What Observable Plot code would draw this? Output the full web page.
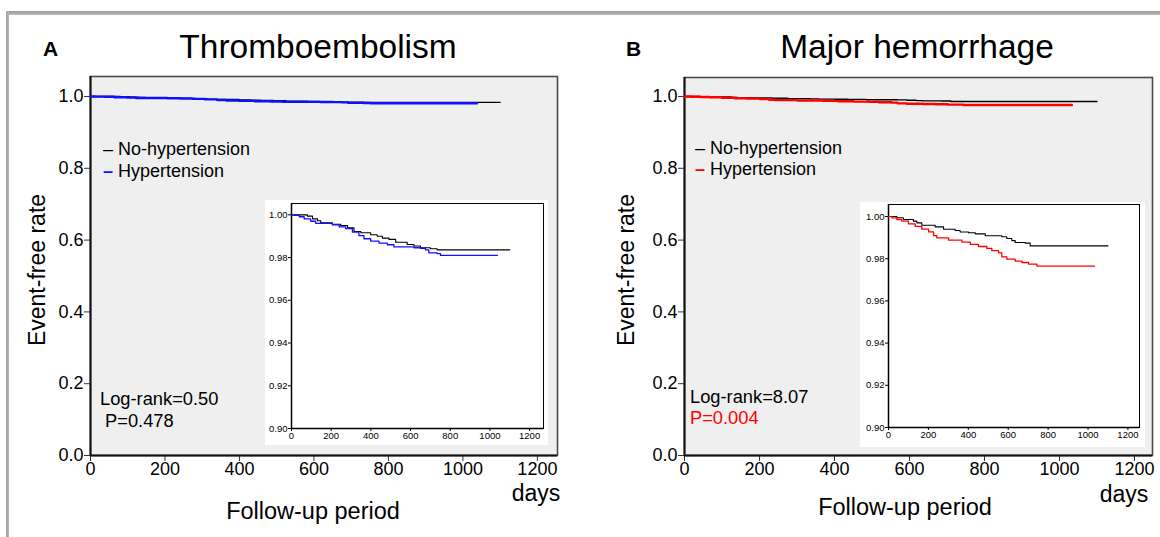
<!DOCTYPE html>
<html>
<head>
<meta charset="utf-8">
<script src="https://cdn.jsdelivr.net/npm/d3@7"></script>
<script src="https://cdn.jsdelivr.net/npm/@observablehq/plot@0.6"></script>
<style>
  html, body { margin: 0; padding: 0; background: #fff; }
  #root { position: relative; width: 1160px; height: 537px; overflow: hidden; background: #fff;
          font-family: "Liberation Sans", Arial, Helvetica, sans-serif; }
  .abs { position: absolute; }
  .abs svg { display: block; }
</style>
</head>
<body>
<div id="root"></div>
<script>
// ---------------- DATA ----------------
// Panel A: Thromboembolism
const teNoHTDays = [0, 80, 106, 131, 147, 206, 248, 282, 315, 349, 399, 432, 458, 491, 525, 583, 617, 650, 700, 734, 1100];
const teNoHTSurv = [1.0, 0.9994, 0.9981, 0.9972, 0.9963, 0.9956, 0.9950, 0.9939, 0.9922, 0.9916, 0.9907, 0.9900, 0.9891, 0.9885, 0.9872, 0.9861, 0.9854, 0.9846, 0.9841, 0.9836, 0.9836];
const teHTDays = [0, 13, 39, 64, 97, 122, 206, 240, 273, 307, 340, 365, 399, 441, 483, 516, 617, 650, 675, 692, 734, 751, 1038];
const teHTSurv = [1.0, 0.9997, 0.9991, 0.9981, 0.9970, 0.9960, 0.9953, 0.9944, 0.9935, 0.9919, 0.9903, 0.9888, 0.9877, 0.9868, 0.9860, 0.9850, 0.9846, 0.9843, 0.9836, 0.9822, 0.9818, 0.9810, 0.9810];
// Panel B: Major hemorrhage
const mhNoHTDays = [0, 42, 75, 125, 142, 167, 234, 276, 334, 359, 401, 435, 485, 568, 593, 618, 635, 685, 710, 1100];
const mhNoHTSurv = [1.0, 0.9994, 0.9986, 0.9978, 0.9970, 0.9959, 0.9951, 0.9940, 0.9934, 0.9927, 0.9923, 0.9918, 0.9909, 0.9904, 0.9896, 0.9886, 0.9877, 0.9874, 0.9861, 0.9861];
const mhHTDays = [0, 17, 42, 67, 100, 134, 167, 201, 226, 242, 301, 368, 410, 451, 493, 518, 552, 568, 593, 635, 669, 702, 744, 1033];
const mhHTSurv = [1.0, 0.9994, 0.9986, 0.9978, 0.9965, 0.9953, 0.9940, 0.9927, 0.9909, 0.9899, 0.9888, 0.9879, 0.9868, 0.9858, 0.9849, 0.9838, 0.9828, 0.9809, 0.9798, 0.9789, 0.9782, 0.9774, 0.9765, 0.9765];

const mainXTicks = [0, 200, 400, 600, 800, 1000, 1200];
const mainYTicks = [0, 0.2, 0.4, 0.6, 0.8, 1.0];
const insetYTicks = [0.90, 0.92, 0.94, 0.96, 0.98, 1.00];
const groupLabels = ["No-hypertension", "Hypertension"];
const panelTitles = ["Thromboembolism", "Major hemorrhage"];
const panelLetters = ["A", "B"];
const logRankTexts = ["Log-rank=0.50", "Log-rank=8.07"];
const pTexts = [" P=0.478", "P=0.004"];
const xAxisTitle = "Follow-up period";
const yAxisTitle = "Event-free rate";
const unitText = "days";

// ---------------- helpers ----------------
const toRows = (days, surv) => days.map((d, i) => ({day: d, surv: surv[i]}));
const FONT = '"Liberation Sans", Arial, Helvetica, sans-serif';
const root = document.getElementById("root");
const intFmt = d => String(d);

function place(node, left, top) {
  const w = document.createElement("div");
  w.className = "abs";
  w.style.left = left + "px";
  w.style.top = top + "px";
  w.appendChild(node);
  root.appendChild(w);
}

function mainPlot(o) {
  return Plot.plot({
    width: o.width, height: 537,
    marginLeft: o.ml, marginRight: o.mr, marginTop: o.mt, marginBottom: 82,
    x: {domain: [0, o.xmax]},
    y: {domain: [0, o.ymax]},
    style: {fontFamily: FONT, fontSize: "18px", color: "#000", background: "transparent", overflow: "visible"},
    marks: [
      Plot.frame({fill: "#efefef", stroke: "#4a4a4a", strokeWidth: 1.6}),
      Plot.axisX({ticks: mainXTicks, tickFormat: intFmt, tickSize: 6, tickPadding: 1, label: null, stroke: "#333"}),
      Plot.axisY({ticks: mainYTicks, tickFormat: d3.format(".1f"), tickSize: 6, tickPadding: 1, label: null, stroke: "#333"}),
      Plot.ruleX([0], {stroke: "#111", strokeWidth: 2}),
      Plot.ruleY([0], {stroke: "#111", strokeWidth: 2}),
      Plot.line(o.ref, {x: "day", y: "surv", curve: "step-after", stroke: "#000", strokeWidth: 1.3}),
      Plot.line(o.grp, {x: "day", y: "surv", curve: "step-after", stroke: o.color, strokeWidth: 2.4})
    ]
  });
}

function insetPlot(o) {
  return Plot.plot({
    width: o.width, height: o.height,
    marginLeft: o.ml, marginRight: o.mr, marginTop: o.mt, marginBottom: o.mb,
    x: {domain: [0, o.xmax]},
    y: {domain: [0.90, o.ymax]},
    style: {fontFamily: FONT, fontSize: "9.5px", color: "#000", background: "#fff"},
    marks: [
      Plot.frame({stroke: "#000", strokeWidth: 1}),
      Plot.axisX({ticks: mainXTicks, tickFormat: intFmt, tickSize: 3, tickPadding: 1, label: null}),
      Plot.axisY({ticks: insetYTicks, tickFormat: d3.format(".2f"), tickSize: 3, tickPadding: 1, label: null}),
      Plot.ruleX([0], {stroke: "#000", strokeWidth: 1.5}),
      Plot.ruleY([0.90], {stroke: "#000", strokeWidth: 1.5}),
      Plot.line(o.ref, {x: "day", y: "surv", curve: "step-after", stroke: "#000", strokeWidth: 1.1}),
      Plot.line(o.grp, {x: "day", y: "surv", curve: "step-after", stroke: o.color, strokeWidth: 1.3})
    ]
  });
}

const teRef = toRows(teNoHTDays, teNoHTSurv), teGrp = toRows(teHTDays, teHTSurv);
const mhRef = toRows(mhNoHTDays, mhNoHTSurv), mhGrp = toRows(mhHTDays, mhHTSurv);
const BLUE = "#1010ff", RED = "#ff0000";

// page border lines
const topLine = document.createElement("div");
topLine.style.cssText = "position:absolute;left:6px;top:11px;width:1160px;height:4px;background:linear-gradient(#9a9a9a,#bdbdbd);";
root.appendChild(topLine);
const leftLine = document.createElement("div");
leftLine.style.cssText = "position:absolute;left:6px;top:11px;width:3px;height:540px;background:linear-gradient(90deg,#a0a0a0,#b8b8b8);";
root.appendChild(leftLine);

// Panel A
place(mainPlot({width: 580, ml: 90, mr: 23, mt: 76, xmax: 1254, ymax: 1.0557, ref: teRef, grp: teGrp, color: BLUE}), 0, 0);
place(insetPlot({width: 283, height: 245, ml: 26, mr: 5, mt: 3, mb: 17, xmax: 1270, ymax: 1.0053, ref: teRef, grp: teGrp, color: BLUE}), 265, 200);
// Panel B
place(mainPlot({width: 580, ml: 104, mr: 8, mt: 77, xmax: 1248, ymax: 1.0529, ref: mhRef, grp: mhGrp, color: RED}), 580, 0);
place(insetPlot({width: 285, height: 245, ml: 28, mr: 6, mt: 2, mb: 20, xmax: 1258, ymax: 1.0057, ref: mhRef, grp: mhGrp, color: RED}), 860, 202);

// Text overlay (real SVG text)
const svg = d3.select(root).append("svg")
  .attr("width", 1160).attr("height", 537)
  .style("position", "absolute").style("left", 0).style("top", 0)
  .style("pointer-events", "none")
  .style("font-family", FONT);

function txt(x, y, s, size, opts = {}) {
  const t = svg.append("text").attr("x", x).attr("y", y).text(s)
    .attr("font-size", size + "px").attr("fill", opts.fill || "#000")
    .attr("text-anchor", opts.anchor || "start")
    .style("white-space", "pre");
  if (opts.bold) t.attr("font-weight", "bold");
  if (opts.rotate) t.attr("transform", `rotate(-90 ${x} ${y})`);
  return t;
}

const panels = [
  {letterX: 43, titleX: 318, yTitleX: 45, xTitleX: 313, xTitleY: 519, daysX: 536, daysY: 501,
   legX: 103, legY: [155, 177], lrX: 100, lrY: [405, 427], color: BLUE, pColor: "#000"},
  {letterX: 626, titleX: 917, yTitleX: 634, xTitleX: 905, xTitleY: 515, daysX: 1124, daysY: 502,
   legX: 695, legY: [154, 175], lrX: 690, lrY: [403, 424], color: RED, pColor: RED}
];

panels.forEach((p, i) => {
  txt(p.letterX, 56, panelLetters[i], 21, {bold: true});
  txt(p.titleX, 58, panelTitles[i], 33.5, {anchor: "middle"});
  txt(p.yTitleX, 270, yAxisTitle, 23, {anchor: "middle", rotate: true});
  txt(p.xTitleX, p.xTitleY, xAxisTitle, 23.5, {anchor: "middle"});
  txt(p.daysX, p.daysY, unitText, 23, {anchor: "middle"});
  // legend
  const l1 = txt(p.legX, p.legY[0], "", 18);
  l1.append("tspan").attr("fill", "#000").text("\u2013 ");
  l1.append("tspan").text(groupLabels[0]);
  const l2 = txt(p.legX, p.legY[1], "", 18);
  l2.append("tspan").attr("fill", p.color).attr("font-weight", "bold").text("\u2013");
  l2.append("tspan").text(" " + groupLabels[1]);
  // statistics
  txt(p.lrX, p.lrY[0], logRankTexts[i], 18.3);
  txt(p.lrX, p.lrY[1], pTexts[i], 18.3, {fill: p.pColor});
});
</script>
</body>
</html>
